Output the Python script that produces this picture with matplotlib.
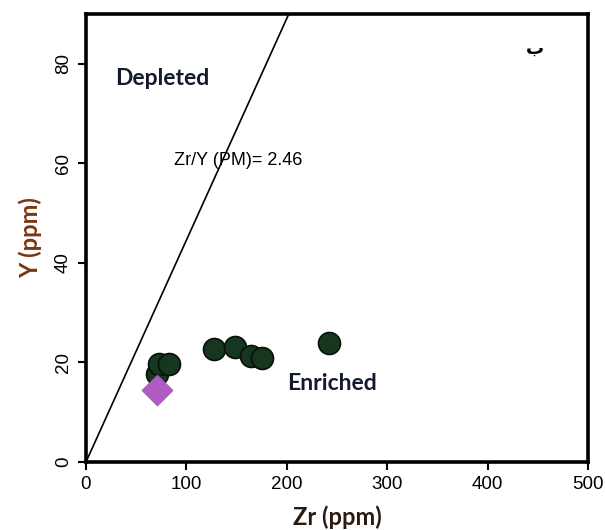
import matplotlib
matplotlib.use('Agg')
import matplotlib.pyplot as plt

# data
sample_zr = [71, 73, 83, 128, 148, 164, 175, 242]
sample_y = [17.6, 19.6, 19.6, 22.8, 23.2, 21.2, 20.8, 24.0]
pm_zr = [71]
pm_y = [14.4]
line_zr = [0, 202]
line_y = [0, 90]
xticks = [0, 100, 200, 300, 400, 500]
yticks = [0, 20, 40, 60, 80]

fig = plt.figure(figsize=(6.05, 5.30), dpi=100)
ax = fig.add_axes([0.1421, 0.1283, 0.8298, 0.8453])

ax.plot(line_zr, line_y, color='black', lw=1.2, zorder=2)
ax.scatter(sample_zr, sample_y, s=250, marker='o', facecolor='#16361f',
           edgecolor='#081008', linewidth=1.2, zorder=3)
ax.scatter(pm_zr, pm_y, s=250, marker='D', facecolor='#b05cc2',
           edgecolor='#a050b5', linewidth=0.5, zorder=4)

ax.set_xlim(0, 500)
ax.set_ylim(0, 90)
ax.set_xticks(xticks)
ax.set_yticks(yticks)
ax.set_xticklabels([str(t) for t in xticks], family='Liberation Sans', fontsize=13.5)
ax.set_yticklabels([str(t) for t in yticks], family='Liberation Sans', fontsize=13.5,
                   rotation=90, va='center')
ax.tick_params(direction='out', length=6, width=1.5, pad=4)
for sp in ax.spines.values():
    sp.set_linewidth(2.6)

ax.set_xlabel('Zr (ppm)', family='Lato', fontweight='bold', fontsize=17,
              color='#2a1a10', labelpad=9)
ax.set_ylabel('Y (ppm)', family='Lato', fontweight='bold', fontsize=17,
              color='#7b3510', labelpad=9)

ax.text(29, 77, 'Depleted', family='Lato', fontweight='bold', fontsize=16.5,
        color='#141a2e', ha='left', va='center')
ax.text(200, 15.8, 'Enriched', family='Lato', fontweight='bold', fontsize=16.5,
        color='#141a2e', ha='left', va='center')
ax.text(88, 60.5, 'Zr/Y (PM)= 2.46', family='Liberation Sans', fontsize=13,
        color='black', ha='left', va='center')
ax.text(447, 83, 'ب', family='DejaVu Sans', fontweight='bold', fontsize=13,
        color='black', ha='center', va='center')

fig.savefig('out.png', dpi=100)
